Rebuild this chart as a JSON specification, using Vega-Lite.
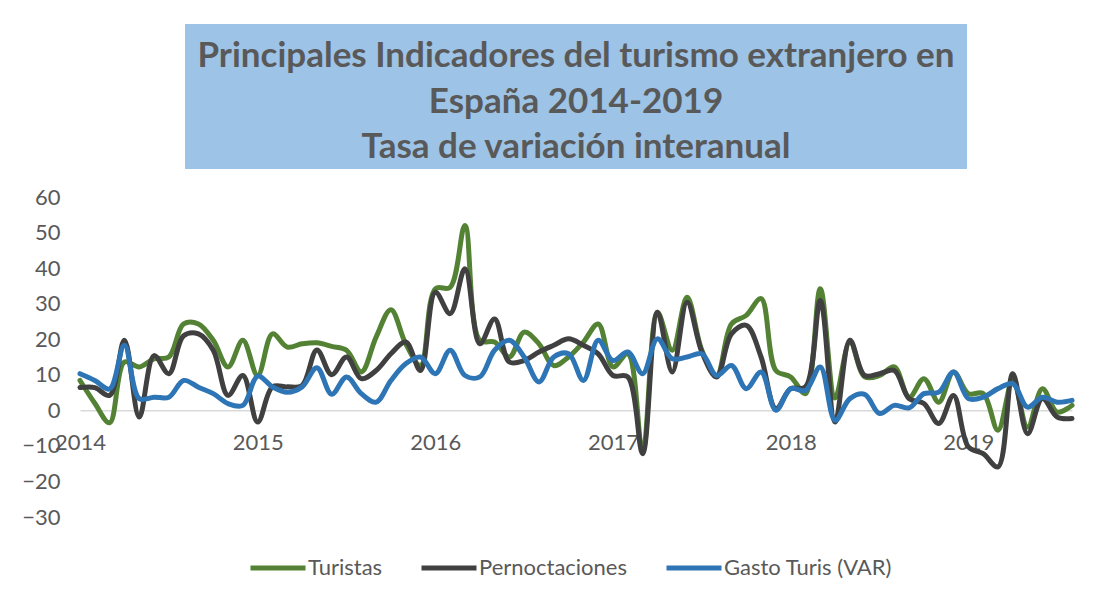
{
  "$schema": "https://vega.github.io/schema/vega-lite/v6.json",
  "background": "white",
  "padding": {"left": 21, "top": 24, "right": 5, "bottom": 5},
  "config": {"view": {"stroke": null}, "font": "Lato"},
  "bounds": "flush",
  "center": true,
  "spacing": 28,
  "vconcat": [
    {
      "width": 782,
      "height": 145,
      "view": {"fill": "#9DC3E6", "stroke": null},
      "data": {"values": [
        {"linea": 1, "texto": "Principales Indicadores del turismo extranjero  en"},
        {"linea": 2, "texto": "España 2014-2019"},
        {"linea": 3, "texto": "Tasa de variación interanual"}
      ]},
      "mark": {"type": "text", "font": "Lato", "fontWeight": "bold", "fontSize": 35, "color": "#595959", "baseline": "middle", "align": "center", "dy": 5},
      "encoding": {
        "y": {"field": "linea", "type": "ordinal", "axis": null, "scale": {"type": "point", "padding": 0.6}},
        "text": {"field": "texto"}
      }
    },
    {
      "width": 992,
      "height": 320,
      "data": {"values": [
        {"mes": "2014-01", "Turistas": 8.4, "Pernoctaciones": 6.4, "Gasto Turis (VAR)": 10.3},
        {"mes": "2014-02", "Turistas": 2, "Pernoctaciones": 6.4, "Gasto Turis (VAR)": 8.4},
        {"mes": "2014-03", "Turistas": -3.5, "Pernoctaciones": 4.2, "Gasto Turis (VAR)": 6},
        {"mes": "2014-04", "Turistas": 13.6, "Pernoctaciones": 19.7, "Gasto Turis (VAR)": 18.3},
        {"mes": "2014-05", "Turistas": 12.2, "Pernoctaciones": -1.9, "Gasto Turis (VAR)": 3.3},
        {"mes": "2014-06", "Turistas": 14.5, "Pernoctaciones": 15.4, "Gasto Turis (VAR)": 3.7},
        {"mes": "2014-07", "Turistas": 15, "Pernoctaciones": 10.3, "Gasto Turis (VAR)": 3.7},
        {"mes": "2014-08", "Turistas": 24.3, "Pernoctaciones": 21, "Gasto Turis (VAR)": 8.4},
        {"mes": "2014-09", "Turistas": 24.3, "Pernoctaciones": 21.5, "Gasto Turis (VAR)": 6.5},
        {"mes": "2014-10", "Turistas": 19.7, "Pernoctaciones": 16.9, "Gasto Turis (VAR)": 4.7},
        {"mes": "2014-11", "Turistas": 12.2, "Pernoctaciones": 4.2, "Gasto Turis (VAR)": 1.9},
        {"mes": "2014-12", "Turistas": 19.7, "Pernoctaciones": 9.8, "Gasto Turis (VAR)": 1.4},
        {"mes": "2015-01", "Turistas": 9.8, "Pernoctaciones": -3.3, "Gasto Turis (VAR)": 9.6},
        {"mes": "2015-02", "Turistas": 21.5, "Pernoctaciones": 6.6, "Gasto Turis (VAR)": 6.6},
        {"mes": "2015-03", "Turistas": 17.8, "Pernoctaciones": 6.6, "Gasto Turis (VAR)": 5.1},
        {"mes": "2015-04", "Turistas": 18.7, "Pernoctaciones": 7, "Gasto Turis (VAR)": 6.6},
        {"mes": "2015-05", "Turistas": 19, "Pernoctaciones": 17, "Gasto Turis (VAR)": 12},
        {"mes": "2015-06", "Turistas": 18, "Pernoctaciones": 10, "Gasto Turis (VAR)": 4.5},
        {"mes": "2015-07", "Turistas": 16.9, "Pernoctaciones": 15, "Gasto Turis (VAR)": 9.4},
        {"mes": "2015-08", "Turistas": 10.8, "Pernoctaciones": 8.9, "Gasto Turis (VAR)": 4.7},
        {"mes": "2015-09", "Turistas": 20.6, "Pernoctaciones": 11.2, "Gasto Turis (VAR)": 2.3},
        {"mes": "2015-10", "Turistas": 28.3, "Pernoctaciones": 15.9, "Gasto Turis (VAR)": 8.4},
        {"mes": "2015-11", "Turistas": 18.7, "Pernoctaciones": 19.2, "Gasto Turis (VAR)": 13.1},
        {"mes": "2015-12", "Turistas": 12.6, "Pernoctaciones": 11.2, "Gasto Turis (VAR)": 15},
        {"mes": "2016-01", "Turistas": 34.2, "Pernoctaciones": 33.2, "Gasto Turis (VAR)": 10.3},
        {"mes": "2016-02", "Turistas": 34.6, "Pernoctaciones": 27.2, "Gasto Turis (VAR)": 16.9},
        {"mes": "2016-03", "Turistas": 52, "Pernoctaciones": 39.8, "Gasto Turis (VAR)": 9.8},
        {"mes": "2016-04", "Turistas": 19.7, "Pernoctaciones": 18.7, "Gasto Turis (VAR)": 9.4},
        {"mes": "2016-05", "Turistas": 19.2, "Pernoctaciones": 25.7, "Gasto Turis (VAR)": 16.9},
        {"mes": "2016-06", "Turistas": 15, "Pernoctaciones": 13.6, "Gasto Turis (VAR)": 19.7},
        {"mes": "2016-07", "Turistas": 22, "Pernoctaciones": 14, "Gasto Turis (VAR)": 15},
        {"mes": "2016-08", "Turistas": 18.7, "Pernoctaciones": 16.4, "Gasto Turis (VAR)": 8},
        {"mes": "2016-09", "Turistas": 12.6, "Pernoctaciones": 18.3, "Gasto Turis (VAR)": 15},
        {"mes": "2016-10", "Turistas": 15, "Pernoctaciones": 20.1, "Gasto Turis (VAR)": 15.9},
        {"mes": "2016-11", "Turistas": 19.2, "Pernoctaciones": 18.3, "Gasto Turis (VAR)": 8.4},
        {"mes": "2016-12", "Turistas": 24.3, "Pernoctaciones": 15.9, "Gasto Turis (VAR)": 19.7},
        {"mes": "2017-01", "Turistas": 12.2, "Pernoctaciones": 9.8, "Gasto Turis (VAR)": 14},
        {"mes": "2017-02", "Turistas": 15.9, "Pernoctaciones": 9.4, "Gasto Turis (VAR)": 16.4},
        {"mes": "2017-03", "Turistas": -11.7, "Pernoctaciones": -12.2, "Gasto Turis (VAR)": 10.3},
        {"mes": "2017-04", "Turistas": 27.6, "Pernoctaciones": 27.6, "Gasto Turis (VAR)": 20.1},
        {"mes": "2017-05", "Turistas": 16.9, "Pernoctaciones": 10.8, "Gasto Turis (VAR)": 14.5},
        {"mes": "2017-06", "Turistas": 31.8, "Pernoctaciones": 30.4, "Gasto Turis (VAR)": 15},
        {"mes": "2017-07", "Turistas": 16.9, "Pernoctaciones": 16.4, "Gasto Turis (VAR)": 15.9},
        {"mes": "2017-08", "Turistas": 9.8, "Pernoctaciones": 9.4, "Gasto Turis (VAR)": 9.8},
        {"mes": "2017-09", "Turistas": 24.3, "Pernoctaciones": 21.5, "Gasto Turis (VAR)": 12.6},
        {"mes": "2017-10", "Turistas": 26.7, "Pernoctaciones": 23.9, "Gasto Turis (VAR)": 6.1},
        {"mes": "2017-11", "Turistas": 31.4, "Pernoctaciones": 15, "Gasto Turis (VAR)": 10.8},
        {"mes": "2017-12", "Turistas": 11.2, "Pernoctaciones": 0.5, "Gasto Turis (VAR)": 0},
        {"mes": "2018-01", "Turistas": 9.4, "Pernoctaciones": 6.1, "Gasto Turis (VAR)": 6.1},
        {"mes": "2018-02", "Turistas": 4.7, "Pernoctaciones": 6.6, "Gasto Turis (VAR)": 5.6},
        {"mes": "2018-03", "Turistas": 34.2, "Pernoctaciones": 30.9, "Gasto Turis (VAR)": 12.2},
        {"mes": "2018-04", "Turistas": 3.5, "Pernoctaciones": -3.3, "Gasto Turis (VAR)": -2.8},
        {"mes": "2018-05", "Turistas": 19.2, "Pernoctaciones": 19.7, "Gasto Turis (VAR)": 3.3},
        {"mes": "2018-06", "Turistas": 9.4, "Pernoctaciones": 9.8, "Gasto Turis (VAR)": 4.5},
        {"mes": "2018-07", "Turistas": 9.8, "Pernoctaciones": 10.3, "Gasto Turis (VAR)": -0.9},
        {"mes": "2018-08", "Turistas": 12.2, "Pernoctaciones": 11.2, "Gasto Turis (VAR)": 1.4},
        {"mes": "2018-09", "Turistas": 3.7, "Pernoctaciones": 3.3, "Gasto Turis (VAR)": 0.7},
        {"mes": "2018-10", "Turistas": 8.9, "Pernoctaciones": 1.9, "Gasto Turis (VAR)": 4.7},
        {"mes": "2018-11", "Turistas": 2.3, "Pernoctaciones": -3.7, "Gasto Turis (VAR)": 5.1},
        {"mes": "2018-12", "Turistas": 10.8, "Pernoctaciones": 4.2, "Gasto Turis (VAR)": 10.8},
        {"mes": "2019-01", "Turistas": 4.7, "Pernoctaciones": -10.3, "Gasto Turis (VAR)": 3.3},
        {"mes": "2019-02", "Turistas": 4.7, "Pernoctaciones": -12.2, "Gasto Turis (VAR)": 3.7},
        {"mes": "2019-03", "Turistas": -5.6, "Pernoctaciones": -15.9, "Gasto Turis (VAR)": 6.1},
        {"mes": "2019-04", "Turistas": 8.4, "Pernoctaciones": 10.3, "Gasto Turis (VAR)": 7.5},
        {"mes": "2019-05", "Turistas": -4.7, "Pernoctaciones": -6.6, "Gasto Turis (VAR)": 0.9},
        {"mes": "2019-06", "Turistas": 6.1, "Pernoctaciones": 3.3, "Gasto Turis (VAR)": 3.7},
        {"mes": "2019-07", "Turistas": -0.5, "Pernoctaciones": -1.9, "Gasto Turis (VAR)": 2.3},
        {"mes": "2019-08", "Turistas": 1.4, "Pernoctaciones": -2.3, "Gasto Turis (VAR)": 2.8}
      ]},
      "transform": [{"fold": ["Turistas", "Pernoctaciones", "Gasto Turis (VAR)"], "as": ["serie", "valor"]}],
      "mark": {"type": "line", "interpolate": "catmull-rom", "strokeWidth": 5, "strokeCap": "round", "strokeJoin": "round"},
      "encoding": {
        "x": {
          "field": "mes", "type": "ordinal",
          "scale": {"type": "point", "padding": 0},
          "axis": {
            "values": ["2014-01", "2015-01", "2016-01", "2017-01", "2018-01", "2019-01"],
            "labelExpr": "slice(datum.value, 0, 4)",
            "title": null, "offset": -106.67, "ticks": false, "tickSize": 0,
            "labelPadding": 22, "labelAngle": 0, "labelFontSize": 22, "labelColor": "#595959",
            "labelFont": "Lato", "domainColor": "#D9D9D9", "domainWidth": 1.5, "grid": false
          }
        },
        "y": {
          "field": "valor", "type": "quantitative",
          "scale": {"domain": [-30, 60]},
          "axis": {
            "values": [-30, -20, -10, 0, 10, 20, 30, 40, 50, 60],
            "title": null, "grid": false, "domain": false, "ticks": false,
            "labelPadding": 20, "labelFontSize": 22, "labelColor": "#595959", "labelFont": "Lato"
          }
        },
        "color": {
          "field": "serie", "type": "nominal",
          "scale": {"domain": ["Turistas", "Pernoctaciones", "Gasto Turis (VAR)"], "range": ["#548235", "#404040", "#2E75B6"]},
          "legend": {
            "orient": "none", "legendX": 168, "legendY": 514, "direction": "horizontal",
            "title": null, "symbolType": "stroke", "symbolSize": 3025, "symbolStrokeWidth": 5,
            "labelFontSize": 22, "labelColor": "#595959", "labelFont": "Lato", "labelLimit": 0,
            "columnPadding": 28, "labelOffset": 0
          }
        }
      }
    }
  ]
}
